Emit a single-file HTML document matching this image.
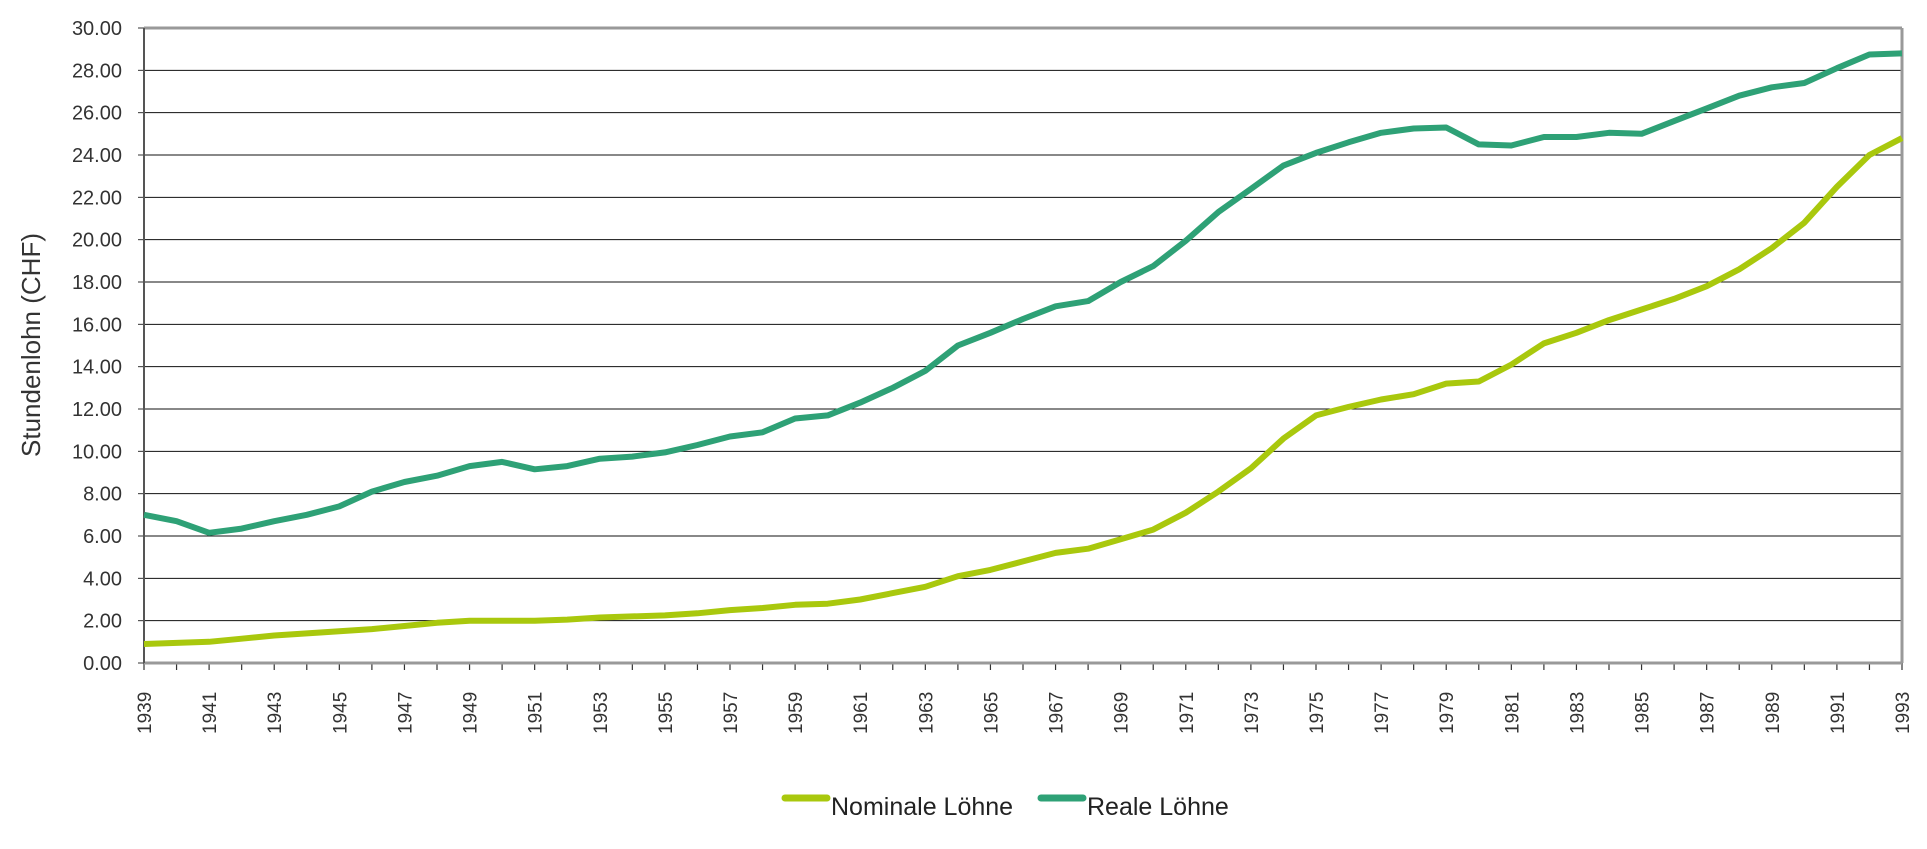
<!DOCTYPE html>
<html><head><meta charset="utf-8"><style>
html,body{margin:0;padding:0;background:#fff;}
svg{display:block;font-family:"Liberation Sans",sans-serif;}
</style></head><body>
<svg id="c" width="1927" height="849" xmlns="http://www.w3.org/2000/svg"></svg>
<script>
const svg=document.getElementById('c');
const X0=144,X1=1902,Y0=663,YT=28;
const xs=y=>X0+(y-1939)*(X1-X0)/54;
const ys=v=>Y0-v*(Y0-YT)/30;
let h='';
for(let v=2;v<30;v+=2){h+=`<line x1="${X0}" x2="${X1}" y1="${ys(v)}" y2="${ys(v)}" stroke="#111" stroke-width="1"/>`;}
for(let v=0;v<=30;v+=2){h+=`<line x1="${X0-6}" x2="${X0}" y1="${ys(v)}" y2="${ys(v)}" stroke="#333" stroke-width="1"/>`;
h+=`<text x="122" y="${ys(v)+7}" text-anchor="end" font-size="20" fill="#333">${v.toFixed(2)}</text>`;}
for(let y=1939;y<=1993;y++){const x=xs(y);h+=`<line x1="${x}" x2="${x}" y1="${Y0}" y2="${Y0+7}" stroke="#333" stroke-width="1.2"/>`;
if((y-1939)%2==0)h+=`<text transform="translate(${x+7},${734}) rotate(-90)" font-size="19" fill="#333">${y}</text>`;}
h+=`<line x1="${X0}" x2="${X1}" y1="${YT}" y2="${YT}" stroke="#999" stroke-width="3"/>`;
h+=`<line x1="${X1}" x2="${X1}" y1="${YT}" y2="${Y0}" stroke="#999" stroke-width="3"/>`;
h+=`<line x1="${X0}" x2="${X1}" y1="${Y0}" y2="${Y0}" stroke="#999" stroke-width="3"/>`;
h+=`<line x1="${X0}" x2="${X0}" y1="${YT}" y2="${Y0}" stroke="#555" stroke-width="2"/>`;
const real=[7.0,6.7,6.15,6.35,6.7,7.0,7.4,8.1,8.55,8.85,9.3,9.5,9.15,9.3,9.65,9.75,9.95,10.3,10.7,10.9,11.55,11.7,12.3,13.0,13.8,15.0,15.6,16.25,16.85,17.1,18.0,18.75,19.95,21.3,22.4,23.5,24.1,24.6,25.05,25.25,25.3,24.5,24.45,24.85,24.85,25.05,25.0,25.6,26.2,26.8,27.2,27.4,28.1,28.75,28.8];
const nom=[0.9,0.95,1.0,1.15,1.3,1.4,1.5,1.6,1.75,1.9,2.0,2.0,2.0,2.05,2.15,2.2,2.25,2.35,2.5,2.6,2.75,2.8,3.0,3.3,3.6,4.1,4.4,4.8,5.2,5.4,5.85,6.3,7.1,8.1,9.2,10.6,11.7,12.1,12.45,12.7,13.2,13.3,14.1,15.1,15.6,16.2,16.7,17.2,17.8,18.6,19.6,20.8,22.5,24.0,24.8];
const pts=a=>a.map((v,i)=>xs(1939+i).toFixed(1)+','+ys(v).toFixed(1)).join(' ');
h+=`<polyline points="${pts(nom)}" fill="none" stroke="#a9c80d" stroke-width="6" stroke-linejoin="round"/>`;
h+=`<polyline points="${pts(real)}" fill="none" stroke="#2ea176" stroke-width="6" stroke-linejoin="round"/>`;
h+=`<text transform="translate(40,345) rotate(-90)" text-anchor="middle" font-size="26" fill="#333">Stundenlohn (CHF)</text>`;
h+=`<line x1="785" x2="827" y1="798" y2="798" stroke="#a9c80d" stroke-width="7" stroke-linecap="round"/>`;
h+=`<text x="831" y="815" font-size="25" fill="#222">Nominale Löhne</text>`;
h+=`<line x1="1041" x2="1083" y1="798" y2="798" stroke="#2ea176" stroke-width="7" stroke-linecap="round"/>`;
h+=`<text x="1087" y="815" font-size="25" fill="#222">Reale Löhne</text>`;
svg.innerHTML=h;
</script>
</body></html>
